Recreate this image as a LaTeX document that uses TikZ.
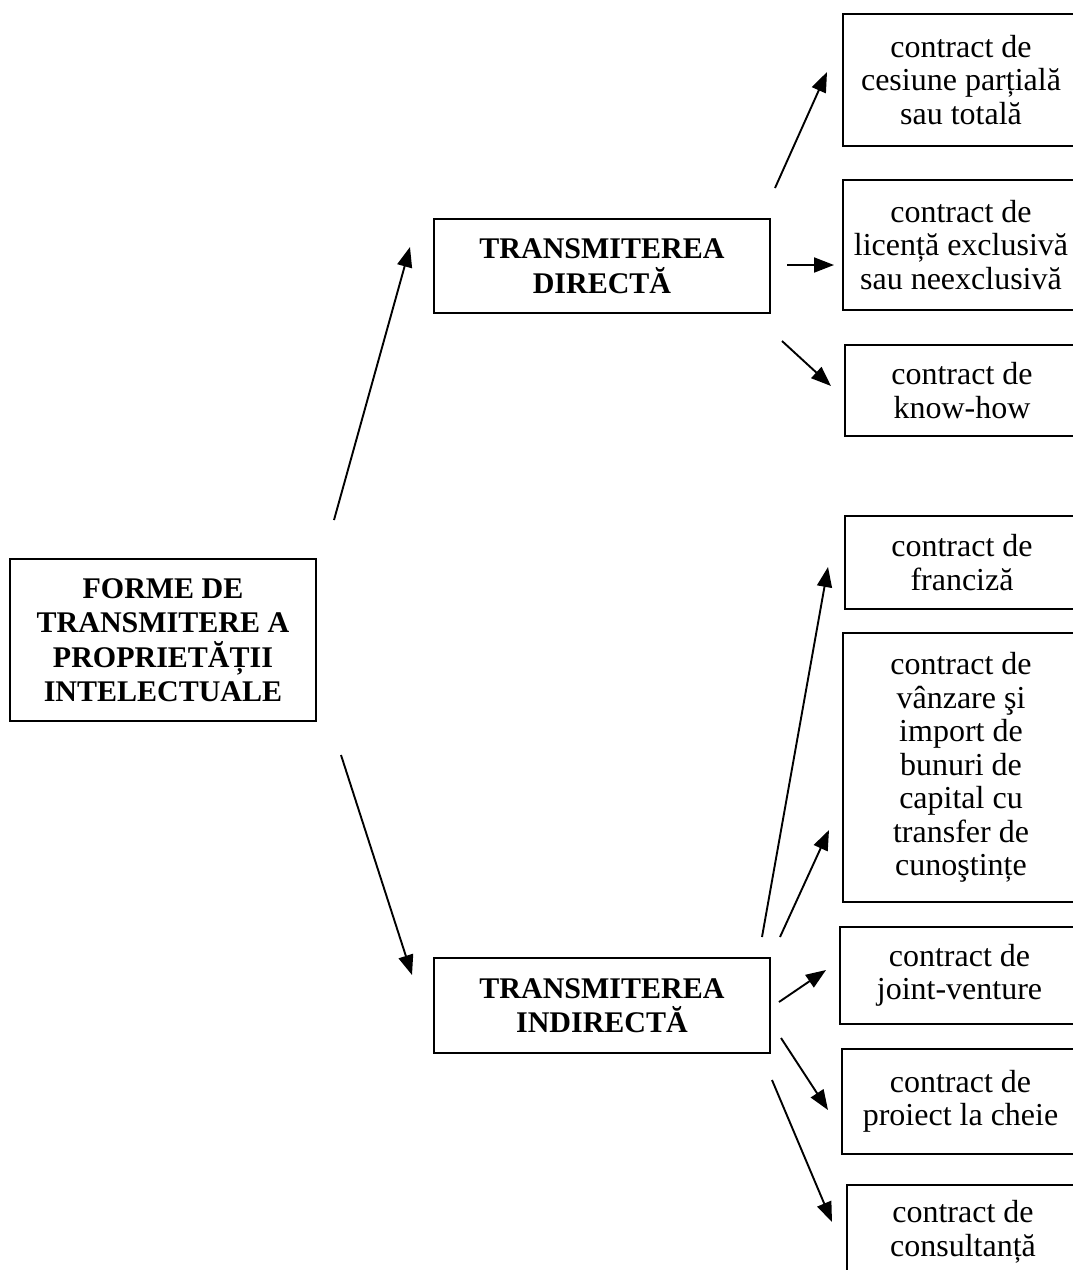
\documentclass[tikz,border=0pt]{standalone}
\usepackage{fontspec}
\setmainfont{Liberation Serif}
\usetikzlibrary{arrows.meta}
\begin{document}
\begin{tikzpicture}[x=1pt,y=-1pt,
  box/.style={draw,line width=1.6pt,inner sep=0pt,align=center,
    font=\fontsize{32}{33.5}\selectfont},
  headbox/.style={box,font=\fontsize{30}{34.5}\selectfont\bfseries},
  link/.style={line width=1.9pt,-{Triangle[length=20pt,width=15pt]}}]
\useasboundingbox (0,0) rectangle (1073,1270);

% main topic
\node[headbox,minimum width=306pt,minimum height=162pt] (root) at (163,640)
  {FORME DE\\TRANSMITERE A\\PROPRIETĂȚII\\INTELECTUALE};

% the two ways of transfer
\node[headbox,minimum width=336pt,minimum height=94pt] (direct) at (602,266)
  {TRANSMITEREA\\DIRECTĂ};
\node[headbox,minimum width=336pt,minimum height=95pt] (indirect) at (602,1005.5)
  {TRANSMITEREA\\INDIRECTĂ};

% contracts of direct transfer (right edges run off the page)
\node[box,minimum width=236pt,minimum height=132pt] (c1) at (961,80)
  {contract de\\cesiune parțială\\sau totală};
\node[box,minimum width=236pt,minimum height=130pt] (c2) at (961,245)
  {contract de\\licență exclusivă\\sau neexclusivă};
\node[box,minimum width=234pt,minimum height=91pt] (c3) at (962,390.5)
  {contract de\\know-how};

% contracts of indirect transfer
\node[box,minimum width=234pt,minimum height=93pt] (c4) at (962,562.5)
  {contract de\\franciză};
\node[box,minimum width=236pt,minimum height=269pt] (c5) at (961,767.5)
  {contract de\\vânzare şi\\import de\\bunuri de\\capital cu\\transfer de\\cunoştințe};
\node[box,minimum width=239pt,minimum height=97pt] (c6) at (959.5,975.5)
  {contract de\\joint-venture};
\node[box,minimum width=237pt,minimum height=105pt] (c7) at (960.5,1101.5)
  {contract de\\proiect la cheie};
\node[box,minimum width=232pt,minimum height=94pt] (c8) at (963,1232)
  {contract de\\consultanță};

% connector end points
\coordinate (r1) at (334,520);   \coordinate (d0) at (410,247);
\coordinate (r2) at (341,755);   \coordinate (i0) at (412,975);
\coordinate (a1) at (775,188);   \coordinate (b1) at (827,72);
\coordinate (a2) at (787,265);   \coordinate (b2) at (834,265);
\coordinate (a3) at (782,341);   \coordinate (b3) at (831,386);
\coordinate (a4) at (762,937);   \coordinate (b4) at (828,567);
\coordinate (a5) at (780,937);   \coordinate (b5) at (829,830);
\coordinate (a6) at (779,1002);  \coordinate (b6) at (826,970);
\coordinate (a7) at (781,1038);  \coordinate (b7) at (828,1110);
\coordinate (a8) at (772,1080);  \coordinate (b8) at (832,1222);

\draw[link] (r1) -- (d0);
\draw[link] (r2) -- (i0);
\draw[link] (a1) -- (b1);
\draw[link] (a2) -- (b2);
\draw[link] (a3) -- (b3);
\draw[link] (a4) -- (b4);
\draw[link] (a5) -- (b5);
\draw[link] (a6) -- (b6);
\draw[link] (a7) -- (b7);
\draw[link] (a8) -- (b8);
\end{tikzpicture}
\end{document}
